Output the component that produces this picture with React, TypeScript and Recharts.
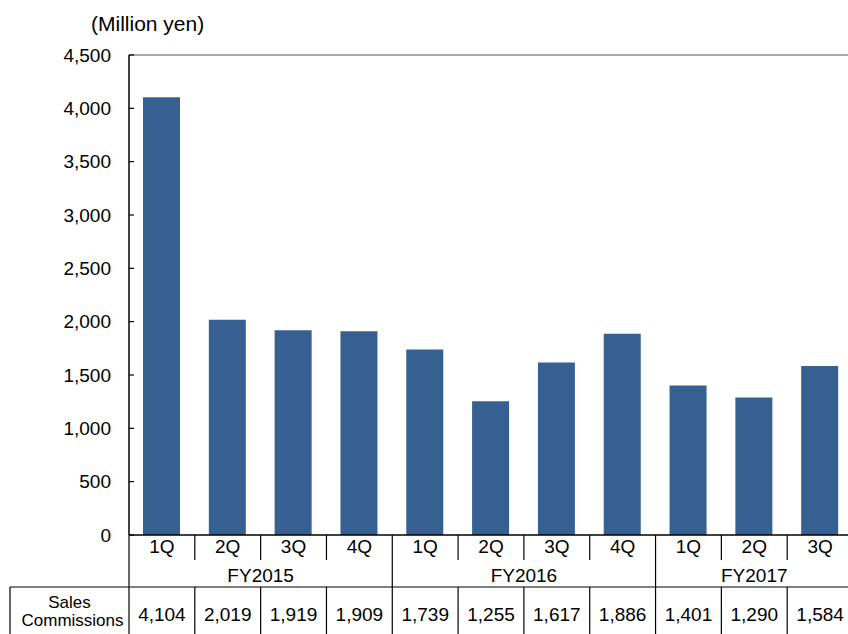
import { BarChart, Bar, XAxis, YAxis, ReferenceLine } from "recharts"

// quarterly sales commissions (million yen)
const quarters = ["1Q", "2Q", "3Q", "4Q", "1Q", "2Q", "3Q", "4Q", "1Q", "2Q", "3Q"]
const fiscalYears = ["FY2015", "FY2015", "FY2015", "FY2015", "FY2016", "FY2016", "FY2016", "FY2016", "FY2017", "FY2017", "FY2017"]
const salesCommissions = [4104, 2019, 1919, 1909, 1739, 1255, 1617, 1886, 1401, 1290, 1584]
const yTicks = [0, 500, 1000, 1500, 2000, 2500, 3000, 3500, 4000, 4500]
const rowLabel = ["Sales", "Commissions"]

const data = quarters.map((q, i) => ({ q, fy: fiscalYears[i], value: salesCommissions[i] }))

const FONT = "'Liberation Sans', Arial, sans-serif"
const BAR = "#376092"
const CHART_W = 870
const PLOT_LEFT = 129
const PLOT_RIGHT = 853
const BAND = (PLOT_RIGHT - PLOT_LEFT) / quarters.length
const fmt = (v: number) => v.toLocaleString("en-US")

function YTick({ x, y, payload }: any) {
  return (
    <g>
      <line x1={x} x2={x + 5} y1={y} y2={y} stroke="#000" strokeWidth={1.2} />
      <text x={x - 18} y={y} textAnchor="end" dominantBaseline="central" fontSize={19} fontFamily={FONT} fill="#000">
        {fmt(payload.value)}
      </text>
    </g>
  )
}

function XTick({ x, y, index }: any) {
  const left = x - BAND / 2
  const fy = fiscalYears[index]
  const groupStart = fiscalYears.indexOf(fy)
  const groupLen = fiscalYears.filter((f) => f === fy).length
  const first = index === groupStart
  const txt = { fontSize: 19, fontFamily: FONT, fill: "#000", textAnchor: "middle" as const, dominantBaseline: "central" as const }
  return (
    <g>
      {index === 0 && (
        <g>
          <line x1={10} x2={CHART_W} y1={y + 52} y2={y + 52} stroke="#000" strokeWidth={1.2} />
          <line x1={10} x2={10} y1={y + 52} y2={y + 99} stroke="#000" strokeWidth={1.2} />
          <text {...txt} fontSize={17} x={(10 + PLOT_LEFT) / 2} y={y + 67}>{rowLabel[0]}</text>
          <text {...txt} fontSize={17} x={(10 + PLOT_LEFT) / 2 + 3} y={y + 85}>{rowLabel[1]}</text>
        </g>
      )}
      <line x1={left} x2={left} y1={y} y2={first ? y + 52 : y + 25} stroke="#000" strokeWidth={1.2} />
      <line x1={left} x2={left} y1={y + 52} y2={y + 99} stroke="#000" strokeWidth={1.2} />
      <text {...txt} x={x} y={y + 11}>{quarters[index]}</text>
      {first && (
        <text {...txt} x={left + (groupLen * BAND) / 2} y={y + 40}>{fy}</text>
      )}
      <text {...txt} x={x} y={y + 79}>{fmt(salesCommissions[index])}</text>
    </g>
  )
}

export default function App() {
  return (
    <div style={{ position: "fixed", left: 0, top: 0, width: 848, height: 634, overflow: "hidden", background: "#fff" }}>
      <div style={{ position: "absolute", left: 91, top: 12, fontFamily: FONT, fontSize: 21, lineHeight: "24px", color: "#000" }}>
        (Million yen)
      </div>
      <BarChart
        width={CHART_W}
        height={634}
        data={data}
        margin={{ top: 55, right: CHART_W - PLOT_RIGHT, left: 0, bottom: 0 }}
        barSize={37}
      >
        <XAxis
          dataKey="q"
          height={99}
          interval={0}
          tickSize={0}
          tickMargin={0}
          tickLine={false}
          axisLine={{ stroke: "#000", strokeWidth: 1.5 }}
          tick={<XTick />}
        />
        <YAxis
          width={PLOT_LEFT}
          domain={[0, 4500]}
          ticks={yTicks}
          tickSize={0}
          tickMargin={0}
          tickLine={false}
          axisLine={{ stroke: "#000", strokeWidth: 1.5 }}
          tick={<YTick />}
        />
        <ReferenceLine y={4500} stroke="#8c8c8c" strokeWidth={1.5} />
        <Bar dataKey="value" fill={BAR} isAnimationActive={false} />
      </BarChart>
    </div>
  )
}
